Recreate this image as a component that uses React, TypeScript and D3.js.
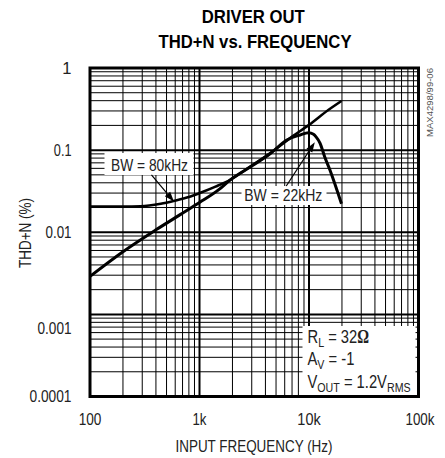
import React from 'react';
import * as d3 from 'd3';

// BW = 80kHz curve
const freq80 = [100, 200, 290, 443, 580, 828, 1020, 1400, 1910, 3000, 4440, 7000, 10000, 15000, 19800];
const thd80 = [0.0206, 0.0206, 0.0207, 0.0222, 0.024, 0.0272, 0.0302, 0.0359, 0.0435, 0.065, 0.092, 0.146, 0.203, 0.308, 0.397];
// BW = 22kHz curve
const freq22 = [100, 200, 400, 672, 1000, 1500, 1910, 3000, 4440, 6270, 8300, 9900, 11000, 11600, 12600, 13900, 15500, 19800];
const thd22 = [0.0029, 0.0058, 0.0107, 0.0165, 0.023, 0.033, 0.0435, 0.064, 0.091, 0.133, 0.153, 0.163, 0.156, 0.145, 0.122, 0.0833, 0.0576, 0.0222];

const xTicks = [100, 1000, 10000, 100000];
const xTickLabels = ['100', '1k', '10k', '100k'];
const yTicks = [1, 0.1, 0.01, 0.001, 0.0001];
const yTickLabels = ['1', '0.1', '0.01', '0.001', '0.0001'];

// annotation arrows (data coords): [fromFreq, fromThd, toFreq, toThd]
const arrow80 = [364, 0.0499, 584, 0.0236];
const arrow22 = [6200, 0.0366, 11300, 0.125];

const FONT = "'Liberation Sans Narrow', 'Arial Narrow', 'Liberation Sans', Arial, sans-serif";

function Arrow({ a, x, y }: { a: number[]; x: any; y: any }) {
  const x1 = x(a[0]), y1 = y(a[1]), x2 = x(a[2]), y2 = y(a[3]);
  const ang = Math.atan2(y2 - y1, x2 - x1);
  const L = 10, Wd = 3.5;
  const bx = x2 - L * Math.cos(ang), by = y2 - L * Math.sin(ang);
  const px = -Math.sin(ang) * Wd, py = Math.cos(ang) * Wd;
  return (
    <g>
      <line x1={x1} y1={y1} x2={bx} y2={by} stroke="#000" strokeWidth={1.2} />
      <polygon points={`${x2},${y2} ${bx + px},${by + py} ${bx - px},${by - py}`} fill="#000" />
    </g>
  );
}

export default function App() {
  const x = d3.scaleLog().domain([100, 100000]).range([90, 418.5]);
  const y = d3.scaleLog().domain([0.0001, 1]).range([396.5, 68]);

  const minorX: number[] = [];
  for (let d = 100; d < 100000; d *= 10) for (let k = 2; k <= 9; k++) minorX.push(d * k);
  const minorY: number[] = [];
  for (let d = 0.0001; d < 1; d *= 10) for (let k = 2; k <= 9; k++) minorY.push(+(d * k).toPrecision(3));

  const line = d3.line<[number, number]>().x(d => x(d[0])).y(d => y(d[1])).curve(d3.curveMonotoneX);
  const d80 = line(freq80.map((f, i) => [f, thd80[i]] as [number, number]));
  const d22 = line(freq22.map((f, i) => [f, thd22[i]] as [number, number]));

  const [x0, x1] = x.range();
  const [y0, y1] = y.range();

  const yLabelW = [0, 17.7, 26, 34, 42];
  const xLabelW = [22.7, 14, 23.3, 29];

  return (
    <svg width={445} height={458} style={{ position: 'absolute', left: 0, top: 0, background: '#fff' }} fontFamily={FONT}>
      <rect x={0} y={0} width={445} height={458} fill="#fff" />
      {/* title */}
      <text x={253.3} y={23} textAnchor="middle" fontWeight="bold" fontSize={19} textLength={103} lengthAdjust="spacingAndGlyphs">DRIVER OUT</text>
      <text x={255} y={48} textAnchor="middle" fontWeight="bold" fontSize={19} textLength={193} lengthAdjust="spacingAndGlyphs">THD+N vs. FREQUENCY</text>

      {/* grid */}
      {minorX.map(v => <line key={'mx' + v} x1={x(v)} x2={x(v)} y1={y1} y2={y0} stroke="#000" strokeWidth={1} />)}
      {minorY.map(v => <line key={'my' + v} y1={y(v)} y2={y(v)} x1={x0} x2={x1} stroke="#000" strokeWidth={1} />)}
      {xTicks.map(v => <line key={'MX' + v} x1={x(v)} x2={x(v)} y1={y1} y2={y0} stroke="#000" strokeWidth={2} />)}
      {yTicks.map(v => <line key={'MY' + v} y1={y(v)} y2={y(v)} x1={x0} x2={x1} stroke="#000" strokeWidth={2} />)}

      {/* label boxes */}
      <rect x={104.5} y={153} width={89} height={22} fill="#fff" />
      <rect x={241.5} y={186} width={85} height={19} fill="#fff" />
      <rect x={302.5} y={326} width={113} height={69} fill="#fff" />

      {/* curves */}
      <path d={d80 || ''} fill="none" stroke="#000" strokeWidth={2.6} strokeLinejoin="round" />
      <path d={d22 || ''} fill="none" stroke="#000" strokeWidth={3} strokeLinejoin="round" />

      {/* frame */}
      <rect x={x0} y={y1} width={x1 - x0} height={y0 - y1} fill="none" stroke="#000" strokeWidth={3} />

      {/* annotations */}
      <text x={111} y={170.7} fontSize={16} fill="#222" textLength={77} lengthAdjust="spacingAndGlyphs">BW = 80kHz</text>
      <Arrow a={arrow80} x={x} y={y} />
      <text x={244.3} y={200.7} fontSize={16} fill="#222" textLength={78} lengthAdjust="spacingAndGlyphs">BW = 22kHz</text>
      <Arrow a={arrow22} x={x} y={y} />

      <g fill="#222" fontSize={18} transform="translate(307.5,0) scale(0.82,1)">
        <text x={0} y={343.3}>R<tspan fontSize={13} dy={4}>L</tspan><tspan dy={-4}> = 32</tspan><tspan fontFamily="'Liberation Serif', serif" fontWeight="bold">Ω</tspan></text>
        <text x={0} y={365}>A<tspan fontSize={13} dy={4}>V</tspan><tspan dy={-4}> = -1</tspan></text>
        <text x={0} y={387.7}>V<tspan fontSize={13} dy={4}>OUT</tspan><tspan dy={-4}> = 1.2V</tspan><tspan fontSize={13} dy={4}>RMS</tspan></text>
      </g>

      {/* y tick labels */}
      {yTicks.map((v, i) => (
        <text key={'yl' + v} x={71.5} y={y(v) + (v === 0.001 ? 20 : 5.5)} textAnchor="end" fontSize={16.5} fill="#222"
          {...(yLabelW[i] ? { textLength: yLabelW[i], lengthAdjust: 'spacingAndGlyphs' } : {})}>{yTickLabels[i]}</text>
      ))}
      {/* x tick labels */}
      {xTicks.map((v, i) => (
        <text key={'xl' + v} x={x(v) + (i === 3 ? 1.5 : 0)} y={425} textAnchor="middle" fontSize={16.5} fill="#222"
          textLength={xLabelW[i]} lengthAdjust="spacingAndGlyphs">{xTickLabels[i]}</text>
      ))}
      <text x={254} y={452} textAnchor="middle" fontSize={16.5} fill="#222" textLength={157} lengthAdjust="spacingAndGlyphs">INPUT FREQUENCY (Hz)</text>
      <text transform="translate(30.5,233) rotate(-90)" textAnchor="middle" fontSize={16.5} fill="#222" textLength={70} lengthAdjust="spacingAndGlyphs">THD+N (%)</text>
      <text transform="translate(432.5,102.5) rotate(-90)" textAnchor="middle" fontSize={9.5} fill="#555" textLength={69} lengthAdjust="spacingAndGlyphs">MAX4298/99-06</text>
    </svg>
  );
}
